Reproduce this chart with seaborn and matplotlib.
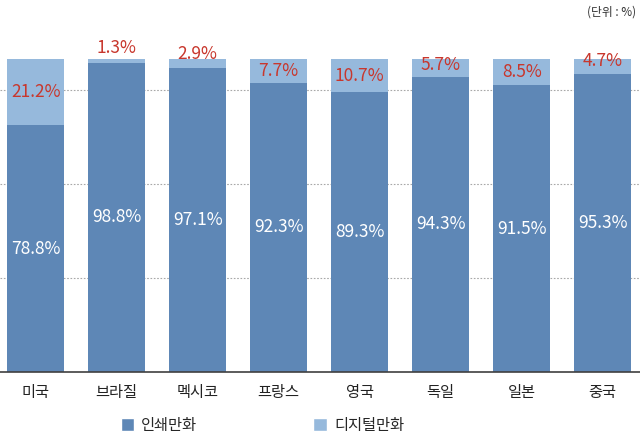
import matplotlib
matplotlib.use('Agg')
import pandas as pd
import seaborn as sns
from matplotlib import pyplot as plt
from matplotlib.patches import Patch

countries = ['미국', '브라질', '멕시코', '프랑스', '영국', '독일', '일본', '중국']
print_share = [78.8, 98.8, 97.1, 92.3, 89.3, 94.3, 91.5, 95.3]
digital_share = [21.2, 1.3, 2.9, 7.7, 10.7, 5.7, 8.5, 4.7]

PRINT_COLOR = '#5E87B6'
DIGITAL_COLOR = '#96B9DC'
RED = '#C8372D'

sns.set_theme(style='white')
plt.rcParams['font.family'] = ['Noto Sans CJK KR', 'DejaVu Sans']

df = pd.DataFrame({
    'country': countries,
    'print': print_share,
    'digital': digital_share,
})
df['total'] = df['print'] + df['digital']

fig = plt.figure(figsize=(6.4, 4.42), dpi=100)
ax = fig.add_axes([0, 70 / 442, 1, 372 / 442])

# stacked: draw the total in light blue, then the print share over it
sns.barplot(data=df, x='country', y='total', color=DIGITAL_COLOR, width=0.7,
            saturation=1, linewidth=0, ax=ax, zorder=2)
sns.barplot(data=df, x='country', y='print', color=PRINT_COLOR, width=0.7,
            saturation=1, linewidth=0, ax=ax, zorder=3)

ax.set_xlim(-0.44, 7.46)
ax.set_ylim(0, 118.8)
ax.set_yticks([30, 60, 90])
ax.set_yticklabels([])
ax.yaxis.grid(True, linestyle=(0, (1.5, 1.5)), color='#a8a8a8', linewidth=0.8, zorder=0)
ax.set_axisbelow(True)
for side in ['top', 'left', 'right']:
    ax.spines[side].set_visible(False)
ax.spines['bottom'].set_color('#404040')
ax.spines['bottom'].set_linewidth(1.2)
ax.spines['bottom'].set_zorder(5)
ax.tick_params(axis='x', length=0, pad=9, labelsize=11, colors='#222222')
ax.tick_params(axis='y', length=0)
ax.set_xlabel('')
ax.set_ylabel('')

for i, row in df.iterrows():
    ax.text(i, row['print'] / 2, f"{row['print']:.1f}%", ha='center', va='center',
            color='white', fontsize=12.5, fontweight='light', zorder=6)
    d = row['digital']
    y = max(100 - d / 2, 105 - 1.2 * d)
    ax.text(i, y, f"{d:.1f}%", ha='center', va='center',
            color=RED, fontsize=12.5, zorder=6)

fig.text(0.994, 0.972, '(단위 : %)', ha='right', va='center', fontsize=8.5, color='#333333')

handles = [Patch(facecolor=PRINT_COLOR, label='인쇄만화'),
           Patch(facecolor=DIGITAL_COLOR, label='디지털만화')]
fig.legend(handles=handles, loc='center', bbox_to_anchor=(0.41, 0.038), ncol=2,
           frameon=False, fontsize=11, handlelength=0.9, handleheight=0.9,
           handletextpad=0.45, columnspacing=7.6)

fig.savefig('out.png', dpi=100)
